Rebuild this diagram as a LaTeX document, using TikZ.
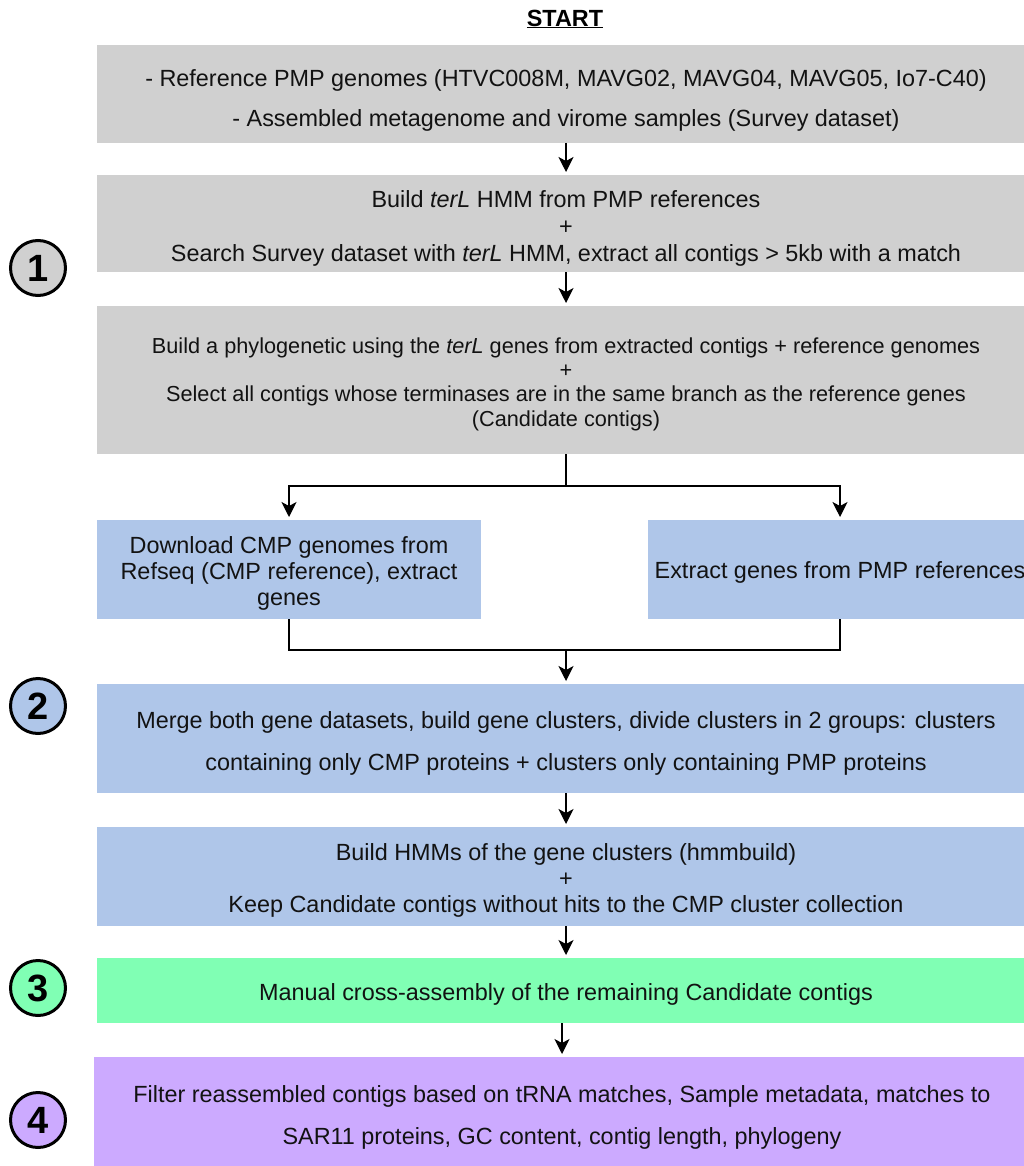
\documentclass[tikz,border=0pt]{standalone}
\usepackage{fontspec}
\setmainfont{Liberation Sans}
\usetikzlibrary{arrows.meta}
\definecolor{cgrey}{HTML}{D0D0D0}
\definecolor{cblue}{HTML}{AFC6E9}
\definecolor{cgreen}{HTML}{80FFB4}
\definecolor{cpurple}{HTML}{CCAAFF}
\begin{document}
\begin{tikzpicture}[x=1pt,y=-1pt,
  box/.style={rectangle, inner sep=0pt, outer sep=0pt},
  txt/.style={inner sep=0pt, align=center, text=black!93, font=\fontsize{23.4}{26}\selectfont},
  arr/.style={-{Stealth[length=15pt,width=15pt,inset=4pt]}, line width=1.3pt, shorten >=3pt},
  link/.style={line width=1.3pt},
  num/.style={circle, draw, line width=3pt, minimum size=55pt, inner sep=0pt, font=\fontsize{38}{38}\selectfont\bfseries}]
\useasboundingbox (0,0) rectangle (1023,1166);

\node[font=\fontsize{23.4}{26}\selectfont\bfseries] (start) at (565,19) {\underline{START}};

% boxes
\node[box, fill=cgrey, minimum width=938pt, minimum height=98pt] (b1) at (566,94) {};
\node[box, fill=cgrey, minimum width=938pt, minimum height=97pt] (b2) at (566,223.5) {};
\node[box, fill=cgrey, minimum width=938pt, minimum height=148pt] (b3) at (566,380) {};
\node[box, fill=cblue, minimum width=384pt, minimum height=99pt] (bl) at (289,569.5) {};
\node[box, fill=cblue, minimum width=384pt, minimum height=99pt] (br) at (840,569.5) {};
\node[box, fill=cblue, minimum width=938pt, minimum height=109pt] (b7) at (566,738.5) {};
\node[box, fill=cblue, minimum width=938pt, minimum height=99pt] (b8) at (566,876.5) {};
\node[box, fill=cgreen, minimum width=938pt, minimum height=65pt] (b9) at (566,990.5) {};
\node[box, fill=cpurple, minimum width=936pt, minimum height=110pt] (b10) at (562,1112) {};

% texts
\node[txt] (t1) at ([yshift=-6pt]b1.center)
  {- Reference PMP genomes (HTVC008M, MAVG02, MAVG04, MAVG05, Io7-C40)\\[14pt]
   - Assembled metagenome and virome samples (Survey dataset)};
\node[txt, font=\fontsize{23.4}{27}\selectfont] (t2) at ([yshift=-5pt]b2.center)
  {Build \textit{terL} HMM from PMP references\\ +\\
   Search Survey dataset with \textit{terL} HMM, extract all contigs > 5kb with a match};
\node[txt, font=\fontsize{21.7}{24.3}\selectfont] (t3) at ([yshift=-4pt]b3.center)
  {Build a phylogenetic using the \textit{terL} genes from extracted contigs + reference genomes\\ +\\
   Select all contigs whose terminases are in the same branch as the reference genes\\
   (Candidate contigs)};
\node[txt] (tl) at ([yshift=-4pt]bl.center)
  {Download CMP genomes from\\ Refseq (CMP reference), extract\\ genes};
\node[txt] (tr) at ([yshift=-3pt]br.center)
  {Extract genes from PMP references};
\node[txt] (t7) at ([yshift=-5pt]b7.center)
  {Merge both gene datasets, build gene clusters, divide clusters in 2 groups: clusters\\[16pt]
   containing only CMP proteins + clusters only containing PMP proteins};
\node[txt] (t8) at ([yshift=-4pt]b8.center)
  {Build HMMs of the gene clusters (hmmbuild)\\ +\\
   Keep Candidate contigs without hits to the CMP cluster collection};
\node[txt] (t9) at ([yshift=-4pt]b9.center)
  {Manual cross-assembly of the remaining Candidate contigs};
\node[txt] (t10) at ([yshift=-5pt]b10.center)
  {Filter reassembled contigs based on tRNA matches, Sample metadata, matches to\\[16pt]
   SAR11 proteins, GC content, contig length, phylogeny};

\node[num, fill=cgrey] (n1) at (38,268) {1};
\node[num, fill=cblue] (n2) at (38,706) {2};
\node[num, fill=cgreen] (n3) at (38,988) {3};
\node[num, fill=cpurple] (n4) at (38,1120) {4};

\coordinate (split) at (566,486);
\coordinate (merge) at (566,650);

\draw[arr] (b1.south) -- (b2.north);
\draw[arr] (b2.south) -- (b3.north);
\draw[link] (b3.south) -- (split);
\draw[arr] (split) -| (bl.north);
\draw[arr] (split) -| (br.north);
\draw[link] (bl.south) |- (merge) -| (br.south);
\draw[arr] (merge) -- (b7.north);
\draw[arr] (b7.south) -- (b8.north);
\draw[arr] (b8.south) -- (b9.north);
\draw[arr] (b9.south -| b10.north) -- (b10.north);
\end{tikzpicture}
\end{document}
